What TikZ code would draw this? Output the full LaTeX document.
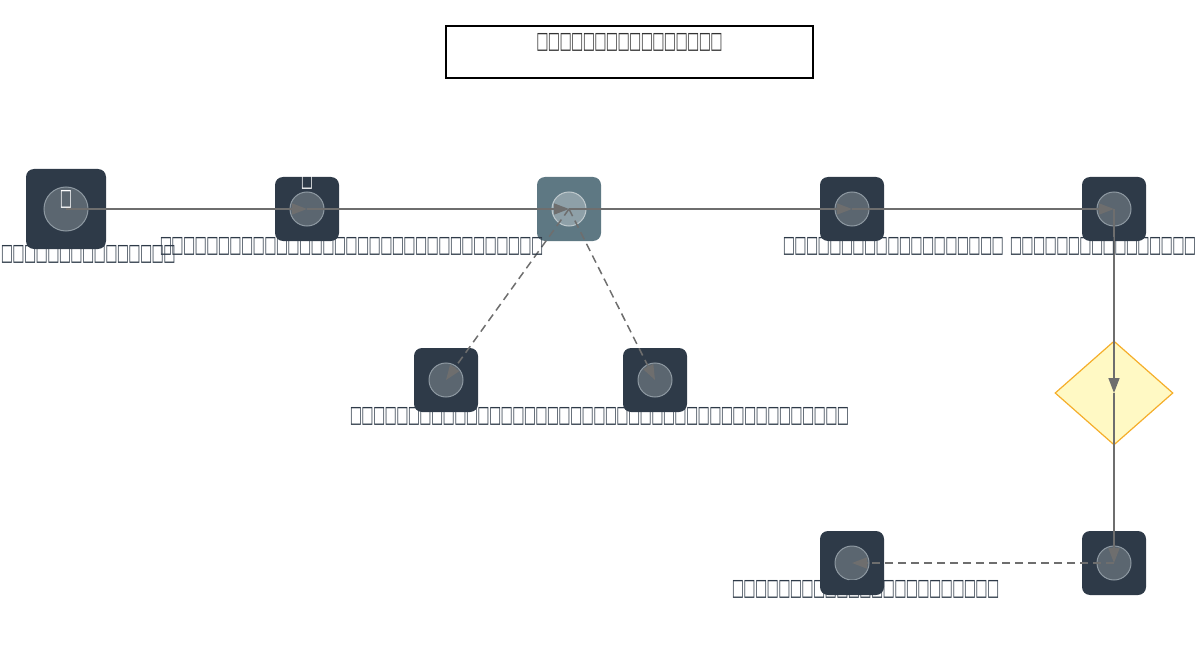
\documentclass[tikz,border=0pt]{standalone}
\usepackage{fontspec}
\usepackage{graphicx}
\setmainfont{DejaVu Sans}
\usetikzlibrary{shapes.geometric,arrows.meta}

\definecolor{slate}{HTML}{2E3A48}
\definecolor{steel}{HTML}{5E7883}
\definecolor{knobfill}{HTML}{5B6670}
\definecolor{knobline}{HTML}{8E99A2}
\definecolor{wire}{HTML}{6E6E6E}
\definecolor{gatefill}{HTML}{FFF9C4}
\definecolor{gateline}{HTML}{F5AE2A}

% one missing glyph, as the picture prints it
\newcommand{\tofuglyph}{\scalebox{0.72}[1.3]{□}}
\newcommand{\tofu}[1]{\foreach \k in {1,...,#1}{\makebox[11.6pt]{\tofuglyph}}}

\begin{document}
\begin{tikzpicture}[x=1pt,y=-1pt,
  stepbox/.style={rectangle, rounded corners=8pt, fill=slate, minimum size=64pt, inner sep=0pt},
  bigbox/.style={stepbox, minimum size=80pt},
  hotbox/.style={stepbox, fill=steel},
  gate/.style={diamond, draw=gateline, line width=1.2pt, fill=gatefill, aspect=1.13, minimum width=118pt, minimum height=104pt, inner sep=0pt},
  knob/.style={fill=knobfill, draw=knobline, line width=1pt},
  hotknob/.style={fill=steel!70!white, draw=steel!40!white, line width=1pt},
  flow/.style={draw=wire, line width=1.5pt, -{Triangle[length=15pt,width=11pt]}},
  side/.style={flow, dashed, dash pattern=on 8pt off 5pt},
  lbl/.style={text=slate, font=\fontsize{18pt}{20pt}\selectfont, inner sep=0pt},
  icon/.style={text=white, font=\fontsize{18pt}{20pt}\selectfont, inner sep=0pt}]

\useasboundingbox (0,0) rectangle (1200,658);

% title
\node [draw, line width=1.5pt, minimum width=367pt, minimum height=52pt, inner sep=0pt] (title) at (629.5,52) {};
\node [lbl, text=black!80] (titletext) at (629.5,42) {\tofu{16}};

% steps
\node [bigbox] (start) at (66,209) {};
\node [stepbox] (load) at (307,209) {};
\node [hotbox] (hub) at (569,209) {};
\node [stepbox] (check) at (852,209) {};
\node [stepbox] (merge) at (1114,209) {};
\node [stepbox] (left) at (446,380) {};
\node [stepbox] (right) at (655,380) {};
\node [gate] (gate) at (1114,393) {};
\node [stepbox] (done) at (1114,563) {};
\node [stepbox] (back) at (852,563) {};

\draw [knob] (start.center) circle [radius=22pt];
\draw [hotknob] (hub.center) circle [radius=17pt];
\foreach \n in {load,check,merge,left,right,done,back}
  \draw [knob] (\n.center) circle [radius=17pt];

\node [icon] (starticon) at (66,199) {\tofuglyph};
\node [icon] (loadicon) at (307,180) {\tofuglyph};

% links
\draw [flow] (start.center) -- (load.center);
\draw [flow] (load.center) -- (hub.center);
\draw [flow] (hub.center) -- (check.center);
\draw [flow] (check.center) -- (merge.center);
\draw [flow] (merge.center) -- (gate.center);
\draw [flow] (gate.center) -- (done.center);
\draw [side] (done.center) -- (back.center);
\draw [side] (hub.center) -- (left.center);
\draw [side] (hub.center) -- (right.center);

% labels
\node [lbl, anchor=west] (startlbl) at (1,254) {\tofu{15}};
\node [lbl, anchor=west] (loadlbl) at (160,246) {\tofu{33}};
\node [lbl, anchor=west] (checklbl) at (783,246) {\tofu{19}};
\node [lbl, anchor=west] (mergelbl) at (1010,246) {\tofu{16}};
\node [lbl, anchor=west] (leftlbl) at (350,416) {\tofu{17}};
\node [lbl, anchor=west] (rightlbl) at (547,416) {\tofu{26}};
\node [lbl, anchor=west] (backlbl) at (732,589) {\tofu{23}};
\end{tikzpicture}
\end{document}
